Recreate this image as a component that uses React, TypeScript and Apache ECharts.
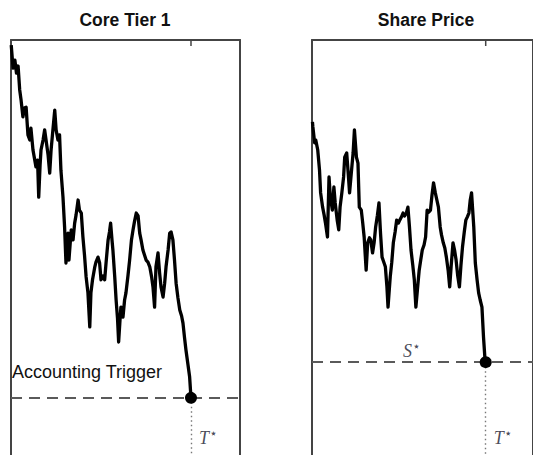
import React, { useEffect, useRef } from "react";
import * as echarts from "echarts";

// Core Tier 1 path (time 0..100, level)
const ctTime = [0.1, 0.9, 1.7, 2.4, 3.1, 3.8, 4.4, 5.2, 5.9, 6.6, 7.4, 8.2, 8.7, 9.6, 10.9, 11.6, 12.1, 12.7, 13.1, 14.0, 14.7, 15.3, 16.2, 16.9, 17.5, 18.1, 19.1, 19.7, 20.5, 21.2, 21.8, 22.7, 23.4, 24.0, 24.5, 24.9, 25.3, 26.3, 27.1, 27.8, 28.4, 29.3, 29.9, 30.7, 31.4, 32.1, 32.8, 33.6, 34.4, 34.9, 35.6, 36.6, 37.1, 38.0, 38.7, 39.3, 40.2, 40.9, 41.5, 42.4, 43.0, 43.5, 44.1, 44.5, 45.3, 45.9, 46.5, 47.0, 47.6, 48.0, 48.9, 49.6, 50.2, 51.1, 51.8, 52.6, 53.3, 53.9, 54.7, 55.5, 56.2, 56.8, 57.6, 58.3, 59.0, 59.8, 60.6, 61.4, 62.0, 62.7, 63.3, 64.2, 64.9, 65.5, 66.4, 67.1, 67.7, 68.6, 69.3, 69.9, 70.7, 71.4, 72.1, 72.9, 73.7, 74.5, 75.1, 75.8, 76.4, 77.3, 78.0, 78.6];
const ctValue = [98.8, 93.3, 95.2, 92.1, 93.8, 88.1, 85.7, 81.7, 83.8, 84.0, 77.4, 76.2, 79.0, 73.8, 69.8, 71.4, 62.6, 70.2, 73.8, 76.2, 78.6, 76.2, 72.6, 68.3, 73.8, 77.4, 83.3, 78.6, 76.2, 77.4, 69.0, 62.6, 55.5, 46.9, 51.2, 54.0, 47.6, 54.8, 52.4, 56.4, 58.3, 61.9, 59.5, 58.8, 53.1, 48.8, 43.6, 39.8, 31.7, 39.8, 42.9, 46.0, 47.1, 48.3, 46.9, 42.9, 43.8, 42.9, 46.9, 52.4, 54.3, 56.4, 52.4, 50.0, 43.6, 38.1, 33.8, 28.1, 33.3, 36.4, 34.0, 38.1, 39.8, 44.0, 47.6, 52.4, 54.8, 56.7, 58.8, 58.1, 54.0, 52.4, 50.0, 48.8, 47.6, 47.1, 46.0, 43.6, 41.2, 36.4, 46.0, 49.3, 44.5, 41.2, 38.8, 42.1, 46.0, 50.0, 54.0, 54.3, 52.4, 47.6, 42.1, 38.6, 35.7, 34.3, 32.6, 29.0, 26.2, 22.6, 19.8, 14.8];

// Share price path
const spTime = [0.2, 0.4, 1.2, 1.7, 2.6, 3.4, 3.9, 4.8, 5.5, 6.1, 7.0, 7.7, 8.3, 9.2, 9.9, 10.5, 11.4, 12.1, 12.7, 13.5, 14.3, 14.8, 15.7, 16.5, 17.0, 17.9, 18.6, 19.2, 20.1, 20.8, 21.4, 22.3, 22.9, 23.6, 24.5, 25.2, 26.0, 26.6, 27.4, 28.1, 28.8, 29.6, 30.3, 31.0, 31.7, 32.5, 33.2, 33.9, 34.4, 34.9, 35.4, 36.1, 36.8, 37.6, 38.3, 39.1, 39.7, 40.5, 41.2, 41.9, 42.7, 43.4, 44.1, 44.8, 45.6, 46.3, 47.0, 47.7, 48.5, 49.2, 49.9, 50.7, 51.4, 52.1, 52.8, 53.6, 54.3, 55.0, 55.8, 56.5, 57.2, 58.0, 58.6, 59.4, 60.1, 60.8, 61.6, 62.3, 63.0, 63.8, 64.5, 65.2, 65.9, 66.7, 67.4, 68.1, 68.9, 69.6, 70.3, 71.0, 71.6, 72.2, 73.2, 73.9, 74.7, 75.4, 76.1, 76.9, 77.6, 78.3, 78.6];
const spValue = [80.5, 79.3, 75.5, 76.2, 73.8, 69.0, 63.6, 60.2, 58.3, 56.4, 53.1, 67.4, 62.6, 59.5, 65.0, 61.2, 57.1, 54.8, 60.2, 63.6, 67.4, 72.1, 73.1, 67.4, 63.6, 69.0, 73.1, 78.6, 72.1, 70.7, 60.2, 59.5, 56.7, 53.1, 45.2, 51.7, 52.9, 52.4, 49.3, 51.7, 55.5, 58.3, 61.2, 54.0, 48.3, 47.1, 46.0, 41.2, 36.4, 40.0, 43.6, 47.1, 51.7, 54.3, 57.1, 56.4, 57.1, 57.9, 58.8, 58.1, 58.8, 60.2, 55.5, 50.0, 46.4, 42.9, 36.4, 40.5, 45.2, 47.6, 50.0, 51.2, 53.1, 59.5, 59.0, 59.5, 63.1, 66.0, 63.6, 61.9, 60.2, 55.5, 53.6, 51.7, 50.5, 48.3, 45.2, 41.2, 46.4, 51.7, 50.0, 47.6, 44.0, 41.2, 46.4, 50.7, 54.3, 57.1, 57.9, 58.8, 61.9, 63.6, 55.5, 46.9, 42.9, 39.8, 38.1, 36.4, 29.3, 23.8, 23.3];

const titles = ["Core Tier 1", "Share Price"];
const triggerLevel = 14.8; // accounting trigger
const sStar = 23.3; // share price trigger
const tStar = 78.6; // trigger time
const yMin = 1.19;
const yMax = 100;
const tLabelLevel = 5.2;
const sLabelTime = 45;

const FONT = "Liberation Sans, Arial, sans-serif";
const SERIF = "Liberation Serif, Times New Roman, serif";

const starRich = {
  v: { fontFamily: SERIF, fontStyle: "italic", fontSize: 18, color: "#1a1a30" },
  s: { fontFamily: "DejaVu Sans", fontSize: 11, fontWeight: "bold", color: "#1a1a30", padding: [0, 0, 9, 1] },
};

export default function App() {
  const ref = useRef<HTMLDivElement>(null);
  useEffect(() => {
    if (!ref.current) return;
    const chart = echarts.init(ref.current, null, { renderer: "svg" });
    const zip = (a: number[], b: number[]) => a.map((x, i) => [x, b[i]]);
    const frame = { show: true, onZero: false, lineStyle: { color: "#444", width: 2 } };
    const gridBase = { top: 40, width: 229, height: 415 };
    const xAx = (g: number) => ({
      type: "value", min: 0, max: 100, gridIndex: g, position: "top",
      axisLine: frame, axisTick: { show: false }, axisLabel: { show: false }, splitLine: { show: false },
    });
    const yAx = (g: number, pos: string) => ({
      type: "value", min: yMin, max: yMax, gridIndex: g, position: pos,
      axisLine: frame, axisTick: { show: false }, axisLabel: { show: false }, splitLine: { show: false },
    });

    const panel = (gi: number, yi: number, data: number[][], level: number, lineLabel: any) => [
      {
        type: "line",
        xAxisIndex: gi,
        yAxisIndex: yi,
        data,
        showSymbol: false,
        lineStyle: { color: "#000", width: 3.3, join: "round" },
        z: 3,
        markLine: {
          silent: true,
          symbol: ["none", "none"],
          animation: false,
          data: [
            {
              yAxis: level,
              lineStyle: { color: "#5a5a5a", width: 2, type: [11, 7] },
              label: lineLabel,
            },
            [
              { coord: [tStar, level], lineStyle: { color: "#777", width: 1.4, type: [1.5, 3] }, label: { show: false } },
              { coord: [tStar, yMin] },
            ],
          ],
        },
      },
      {
        type: "scatter",
        xAxisIndex: gi,
        yAxisIndex: yi,
        data: [[tStar, level]],
        symbol: "circle",
        symbolSize: 12,
        itemStyle: { color: "#000", opacity: 1 },
        z: 5,
        silent: true,
      },
      {
        type: "scatter",
        xAxisIndex: gi,
        yAxisIndex: yi,
        data: [[tStar, yMax]],
        symbol: "rect",
        symbolSize: [1.5, 6],
        symbolOffset: [0, 3],
        clip: false,
        itemStyle: { color: "#444", opacity: 1 },
        z: 6,
        silent: true,
      },
      {
        type: "scatter",
        xAxisIndex: gi,
        yAxisIndex: yi,
        data: [[tStar, tLabelLevel]],
        symbolSize: 0,
        silent: true,
        label: {
          show: true,
          position: "right",
          distance: 8,
          formatter: "{v|T}{s|⋆}",
          rich: starRich,
        },
      },
    ];

    chart.setOption({
      animation: false,
      title: [
        { text: titles[0], left: 125, top: 11, textAlign: "center", padding: 0, textStyle: { fontFamily: FONT, fontSize: 17.5, fontWeight: "bold", color: "#111" } },
        { text: titles[1], left: 426, top: 11, textAlign: "center", padding: 0, textStyle: { fontFamily: FONT, fontSize: 17.5, fontWeight: "bold", color: "#111" } },
      ],
      grid: [
        { ...gridBase, left: 11 },
        { ...gridBase, left: 312 },
      ],
      xAxis: [xAx(0), xAx(1)],
      yAxis: [yAx(0, "left"), yAx(0, "right"), yAx(1, "left"), yAx(1, "right")],
      series: [
        ...panel(0, 0, zip(ctTime, ctValue), triggerLevel, {
          show: true,
          position: "insideStartTop",
          distance: [1, 17],
          formatter: "Accounting Trigger",
          fontFamily: FONT,
          fontSize: 18,
          color: "#111",
        }),
        ...panel(1, 2, zip(spTime, spValue), sStar, { show: false }),
        {
          type: "scatter",
          xAxisIndex: 1,
          yAxisIndex: 2,
          data: [[sLabelTime, sStar]],
          symbolSize: 0,
          silent: true,
          label: {
            show: true,
            position: "top",
            distance: 1,
            formatter: "{v|S}{s|⋆}",
            rich: starRich,
          },
        },
      ],
    });
    return () => chart.dispose();
  }, []);
  return <div ref={ref} style={{ position: "absolute", left: 0, top: 0, width: 533, height: 455 }} />;
}
